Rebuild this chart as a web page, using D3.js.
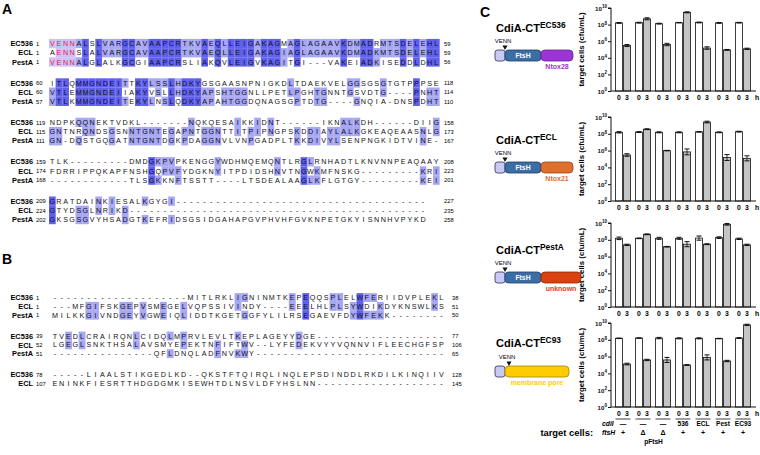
<!DOCTYPE html>
<html><head><meta charset="utf-8">
<script src="https://cdn.jsdelivr.net/npm/d3@7"></script>
<style>body{margin:0;background:#fff}svg{font-family:"Liberation Sans",Arial,Helvetica,sans-serif}</style>
</head><body><svg id="c" width="760" height="455"></svg>
<script>
// ---------------- DATA ----------------
const seqNames = ["EC536","ECL","PestA"];

const alnA = [
 ["VENNALSLVARGCAVAAPCRTKVAEQLLEIGAKAGMAGLAGAAVKDMADRMTSDELEHL",
  "AENNSLALVARGCAVAAPCRTKVAEQLLEIGAKAGIAGLAGAAVKDMADKMTSDELEHL",
  "VENNALGLALKGCGIAAPCRSLIAKQVLEIGVKAGITGI---VAKEIADKISEDDLDHL"],
 ["ITLQMMGNDEITTKYLSSLHDKYGSGAASNPNIGKDLTDAEKVELGGSGSGTGTPPPSE",
  "VTLEMMGNDEIIAKYVSLLHDKYAPSHTGGNLLPETLPGHTGNNTGSVDTG----PNHT",
  "VTLKMMGNDEITEKYLNSLQDKYAPAHTGGDQNAGSGPTDTG----GNQIA-DNSPDHT"],
 ["NDPKQQNEKTVDKL-------NQKQESAIKKIDNT------IKNALKDH------DIIG",
  "GNTNRQNDSGSNNTGNTEGAPNTGGNTTITPIPNGPSKDDIAYLALKGKEAQEAASNLG",
  "GN-DQSTGQGATNTGNTDGKPDAGGNVLVNPGADPLTKKDIVYLSENPNGKIDTVINE-"],
 ["TLK---------DMDGKPVPKENGGYWDHMQEMQNTLRGLRNHADTLKNVNNPEAQAAY",
  "FDRRIPPQKAPFNSHGQPVFYDGKNYITPDIDSHNVTNGWKMFNSKG---------KRI",
  "------------TLSGKKNFTSSTT----LTSDEALAAGLKFLGTGY---------KEI"],
 ["GRATDAINKIESALKGYGI--------------------------------------",
  "GTYDSGLNRIKD---------------------------------------------",
  "GKSGSGVYHSADGTKEFRIDSGSIDGAHAPGVPHVHFGVKNPETGKYISNNHVPYKD"]
];
const alnA_start = [[1,1,1],[60,60,57],[119,115,111],[159,174,168],[209,224,202]];
const alnA_end   = [[59,59,56],[118,114,110],[158,173,167],[208,223,201],[227,235,258]];

const alnB = [
 ["--------------------MITLRKLIGNINMTKEPEQQSPLELWFERIIDVPLEKL",
  "---MFGIFSKGEPVSMEGELVQPSSIVINDY----EEELHLPLSYWDIKDYKNSWLKS",
  "MILKKGIVNDGEYVGWEIQLIDDTKGETGGFYLILRSEGAEVFDYWFEKK--------"],
 ["TVEDLCRAIRQNLCIDQLMPRVLEVLTKEPLAGEYYDGE-------------------",
  "LGEGLSNKTHSALAVSMYEPEKTNFIFTWV--LYFEDEKVYYVQNNVIFLEECHGFSP",
  "---------------QFLDNQLADFNVKWY----------------------------"],
 ["-----LIAALSTIKGEDLKD--QKSTFTQIRQLINQLEPSDINDDLRKDILKINQIIV",
  "ENINKFIESRTTHDGDGMKISEWHTDLNSVLDFYHSLNN-------------------"]
];
const alnB_start = [[1,1,1],[39,52,51],[78,107]];
const alnB_end   = [[38,51,50],[77,106,65],[128,145]];

const motif = /V?ENN/;   // red residues in block 1 of panel A

// panel C
const strains   = ["EC536","ECL","PestA","EC93"];
const toxins    = ["Ntox28","Ntox21","unknown","membrane pore"];
const groups    = ["g1","g2","g3","g4","g5","g6","g7"];
const hours     = ["0","3"];
const cdiI      = ["\u2014","\u2014","\u2014","536","ECL","Pest","EC93"];
const ftsH      = ["+","\u0394","\u0394","+","+","+","+"];
const yTicks    = [1,1e2,1e4,1e6,1e8,1e10];

const cfu0_EC536 = [1.6e8,1.7e8,1.3e8,1.7e8,1.8e8,1.6e8,1.7e8];
const cfu3_EC536 = [3.0e5,5.0e8,4.0e5,3.0e9,1.5e5,9.0e4,1.2e5];
const err0_EC536 = [0.05,0.05,0.05,0.03,0.05,0.05,0.04];
const err3_EC536 = [0.12,0.12,0.14,0.06,0.15,0.05,0.08];

const cfu0_ECL = [1.5e8,1.6e8,1.5e8,1.5e8,1.7e8,1.5e8,1.8e8];
const cfu3_ECL = [3.0e5,3.5e8,1.0e6,7.0e5,2.5e9,1.5e5,1.2e5];
const err0_ECL = [0.08,0.05,0.06,0.06,0.03,0.05,0.05];
const err3_ECL = [0.15,0.05,0.03,0.35,0.10,0.35,0.30];

const cfu0_PestA = [1.5e8,1.5e8,1.5e8,1.5e8,1.6e8,1.8e8,1.3e8];
const cfu3_PestA = [2.5e7,4.5e8,1.5e7,3.0e7,3.0e7,7.0e9,2.5e7];
const err0_PestA = [0.15,0.04,0.12,0.12,0.25,0.10,0.08];
const err3_PestA = [0.08,0.05,0.04,0.30,0.05,0.10,0.08];

const cfu0_EC93 = [1.5e8,1.6e8,1.6e8,1.5e8,1.5e8,1.4e8,1.6e8];
const cfu3_EC93 = [1.3e5,4.0e5,4.0e5,1.0e5,8.0e5,3.0e5,6.0e9];
const err0_EC93 = [0.03,0.03,0.08,0.06,0.06,0.03,0.05];
const err3_EC93 = [0.10,0.08,0.30,0.04,0.30,0.08,0.08];

const cfu0 = [cfu0_EC536,cfu0_ECL,cfu0_PestA,cfu0_EC93];
const cfu3 = [cfu3_EC536,cfu3_ECL,cfu3_PestA,cfu3_EC93];
const err0 = [err0_EC536,err0_ECL,err0_PestA,err0_EC93];
const err3 = [err3_EC536,err3_ECL,err3_PestA,err3_EC93];

// ---------------- STYLE / LAYOUT ----------------
const shade = ["none","#a7a7f5","#6060ee"];
const toxinColors = ["#9b35d6","#df6f2c","#d9410f","#ffcc00"];
const chartY = [[8,91],[117,201],[223,307],[323,407]];   // [10^10, 10^0]
const diagY  = [50,162,272,366];
const titleY = [32,144,254,347];

const svg = d3.select("#c");

function letter(t,x,y){
  svg.append("text").attr("x",x).attr("y",y).attr("font-size",14).attr("font-weight","bold").text(t);
}
letter("A",2,14); letter("B",2,264); letter("C",480,17);

function level(rows, ci, ri){
  if(rows.length<3) return 0;
  const ch = rows[ri][ci];
  if(!ch || ch==="-") return 0;
  const n = rows.filter(r=>r[ci]===ch).length;
  return n===3 ? 2 : (n===2 ? 1 : 0);
}

function drawAlignment(blocks, starts, ends, cfg){
  blocks.forEach((rows, bi)=>{
    const ncol = d3.max(rows, r=>r.length);
    const x = d3.scaleLinear().domain([0,ncol]).range([cfg.x0, cfg.x0 + ncol*cfg.cw]);
    const by = cfg.y0 + bi*cfg.blockStep;
    rows.forEach((s, ri)=>{
      const yc = by + ri*cfg.rowStep;
      const g = svg.append("g");
      let red = new Set();
      if(cfg.motifBlock===bi){
        const m = s.match(motif);
        if(m){ for(let k=m.index;k<m.index+m[0].length;k++) red.add(k); }
      }
      const cells = s.split("").map((ch,ci)=>({ch,ci,lvl:level(rows,ci,ri),red:red.has(ci)}));
      g.selectAll("rect").data(cells.filter(d=>d.lvl>0)).join("rect")
        .attr("x",d=>x(d.ci)).attr("y",yc-cfg.rowStep/2)
        .attr("width",cfg.cw+0.1).attr("height",cfg.rowStep+0.1)
        .attr("fill",d=> d.red ? "#c9c3f3" : shade[d.lvl]);
      g.selectAll("text.res").data(cells).join("text").attr("class","res")
        .attr("x",d=>x(d.ci)+cfg.cw/2).attr("y",yc+2.6)
        .attr("text-anchor","middle").attr("font-size",7.2)
        .attr("fill",d=>d.red?"#e8185a":"#111").text(d=>d.ch);
      g.append("text").attr("x",cfg.nameX).attr("y",yc+2.7).attr("text-anchor","end")
        .attr("font-weight","bold").attr("font-size",7.4).text(seqNames[ri]);
      g.append("text").attr("x",cfg.numX).attr("y",yc+2.3).attr("font-size",5.8).text(starts[bi][ri]);
      g.append("text").attr("x",cfg.endX).attr("y",yc+2.3).attr("font-size",5.8).text(ends[bi][ri]);
    });
  });
}

drawAlignment(alnA, alnA_start, alnA_end,
  {x0:49, cw:6.62, y0:43.5, rowStep:9.2, blockStep:39.4, nameX:33, numX:36, endX:444, motifBlock:0});
drawAlignment(alnB, alnB_start, alnB_end,
  {x0:51.5, cw:6.78, y0:297.5, rowStep:8.8, blockStep:38.5, nameX:33, numX:36, endX:452, motifBlock:-1});

// ---------------- PANEL C ----------------
const xg = d3.scaleBand().domain(groups).range([613,753]).paddingInner(0.25).paddingOuter(0.125);
const xh = d3.scaleBand().domain(hours).range([0,xg.bandwidth()]).paddingInner(0.12);
const axisX = 611;

strains.forEach((st, pi)=>{
  const [top,bot] = chartY[pi];
  const y = d3.scaleLog().domain([1,1e10]).range([bot,top]);
  const g = svg.append("g");

  const data = [];
  groups.forEach((gr,gi)=>{
    data.push({gr,h:"0",v:cfu0[pi][gi],e:err0[pi][gi]});
    data.push({gr,h:"3",v:cfu3[pi][gi],e:err3[pi][gi]});
  });
  g.selectAll("rect.bar").data(data).join("rect").attr("class","bar")
    .attr("x",d=>xg(d.gr)+xh(d.h)).attr("width",xh.bandwidth())
    .attr("y",d=>y(d.v)).attr("height",d=>y(1)-y(d.v))
    .attr("fill",d=>d.h==="0"?"#fff":"#c4c4c4").attr("stroke","#111").attr("stroke-width",0.8);
  const eg = g.selectAll("g.err").data(data).join("g").attr("class","err");
  eg.append("line")
    .attr("x1",d=>xg(d.gr)+xh(d.h)+xh.bandwidth()/2).attr("x2",d=>xg(d.gr)+xh(d.h)+xh.bandwidth()/2)
    .attr("y1",d=>y(d.v/Math.pow(10,d.e))).attr("y2",d=>y(d.v*Math.pow(10,d.e)))
    .attr("stroke","#111").attr("stroke-width",0.8);
  [-1,1].forEach(sg=>{
    eg.append("line")
      .attr("x1",d=>xg(d.gr)+xh(d.h)+1).attr("x2",d=>xg(d.gr)+xh(d.h)+xh.bandwidth()-1)
      .attr("y1",d=>y(d.v*Math.pow(10,sg*d.e))).attr("y2",d=>y(d.v*Math.pow(10,sg*d.e)))
      .attr("stroke","#111").attr("stroke-width",1);
  });

  g.append("g").attr("transform",`translate(${axisX},0)`)
    .call(d3.axisLeft(y).tickValues(yTicks).tickSize(3).tickFormat(()=>""))
    .call(a=>a.select(".domain").attr("stroke","#111").attr("d",`M-3,${top}H0V${bot}`))
    .call(a=>a.selectAll(".tick line").attr("stroke","#111"));
  g.append("line").attr("x1",axisX).attr("x2",756).attr("y1",bot).attr("y2",bot).attr("stroke","#111").attr("stroke-width",1);
  yTicks.forEach(t=>{
    const tx = g.append("text").attr("x",axisX-4).attr("y",y(t)+2.5).attr("text-anchor","end")
      .attr("font-size",6.2).attr("font-weight","bold").attr("fill","#111");
    tx.append("tspan").text("10");
    tx.append("tspan").attr("dy",-2.6).attr("font-size",4.6).text(Math.round(Math.log10(t)));
  });
  g.append("text").attr("transform",`translate(${axisX-27},${(top+bot)/2}) rotate(-90)`)
    .attr("text-anchor","middle").attr("font-size",7.8).attr("font-weight","bold").text("target cells (cfu/mL)");

  data.forEach(d=>{
    g.append("text").attr("x",xg(d.gr)+xh(d.h)+xh.bandwidth()/2).attr("y",bot+8.5)
      .attr("text-anchor","middle").attr("font-size",6.8).attr("font-weight","bold").text(d.h);
  });
  g.append("text").attr("x",757).attr("y",bot+8.5).attr("text-anchor","middle")
    .attr("font-size",6.8).attr("font-weight","bold").text("h");

  const tt = svg.append("text").attr("x",496).attr("y",titleY[pi]).attr("font-size",11).attr("font-weight","bold");
  tt.append("tspan").text("CdiA-CT");
  tt.append("tspan").attr("dy",-4.2).attr("font-size",8.4).text(st);

  const dy = diagY[pi];
  const dg = svg.append("g");
  dg.append("rect").attr("x",495).attr("y",dy).attr("width",10).attr("height",11).attr("rx",2.5)
    .attr("fill","#c9c9f6").attr("stroke","#2b2b4a").attr("stroke-width",0.8);
  let tx0 = 505;
  if(pi<3){
    dg.append("rect").attr("x",505).attr("y",dy).attr("width",36).attr("height",11).attr("rx",3.5)
      .attr("fill","#3c6ea6").attr("stroke","#1d3c60").attr("stroke-width",0.8);
    dg.append("text").attr("x",523).attr("y",dy+8).attr("text-anchor","middle").attr("font-size",6.8)
      .attr("font-weight","bold").attr("fill","#fff").text("FtsH");
    tx0 = 541;
  }
  const tw = [32,32,40,64][pi];
  dg.append("rect").attr("x",tx0).attr("y",dy).attr("width",tw).attr("height",11).attr("rx",4)
    .attr("fill",toxinColors[pi]).attr("stroke",d3.color(toxinColors[pi]).darker(1.2)).attr("stroke-width",0.8);
  dg.append("text").attr("x",tx0+tw/2).attr("y",dy+18.5).attr("text-anchor","middle").attr("font-size",7)
    .attr("font-weight","bold").attr("fill",toxinColors[pi]).text(toxins[pi]);
  const triX = pi<3 ? 505 : 509;
  dg.append("path").attr("d",d3.symbol(d3.symbolTriangle,11)()).attr("transform",`translate(${triX},${dy-3}) rotate(180)`).attr("fill","#111");
  dg.append("text").attr("x",triX-2).attr("y",dy-7).attr("text-anchor","middle").attr("font-size",6).text("VENN");

  if(pi===3){
    groups.forEach((gr,gi)=>{
      g.append("line").attr("x1",xg(gr)).attr("x2",xg(gr)+xg.bandwidth()).attr("y1",bot+12).attr("y2",bot+12)
        .attr("stroke","#111").attr("stroke-width",0.8);
      g.append("text").attr("x",xg(gr)+xg.bandwidth()/2).attr("y",bot+19).attr("text-anchor","middle")
        .attr("font-size",6.6).attr("font-weight","bold").text(cdiI[gi]);
      g.append("text").attr("x",xg(gr)+xg.bandwidth()/2).attr("y",bot+28).attr("text-anchor","middle")
        .attr("font-size",7).attr("font-weight","bold").text(ftsH[gi]);
    });
    g.append("text").attr("x",xg("g3")-2).attr("y",bot+37).attr("text-anchor","middle")
      .attr("font-size",6.6).attr("font-weight","bold").text("pFtsH");
    g.append("text").attr("x",602).attr("y",bot+19).attr("font-size",6.8).attr("font-weight","bold")
      .attr("font-style","italic").text("cdiI");
    g.append("text").attr("x",602).attr("y",bot+28).attr("font-size",6.8).attr("font-weight","bold")
      .attr("font-style","italic").text("ftsH");
    g.append("text").attr("x",593).attr("y",bot+28.5).attr("text-anchor","end").attr("font-size",9.4)
      .attr("font-weight","bold").text("target cells:");
  }
});
</script></body></html>
